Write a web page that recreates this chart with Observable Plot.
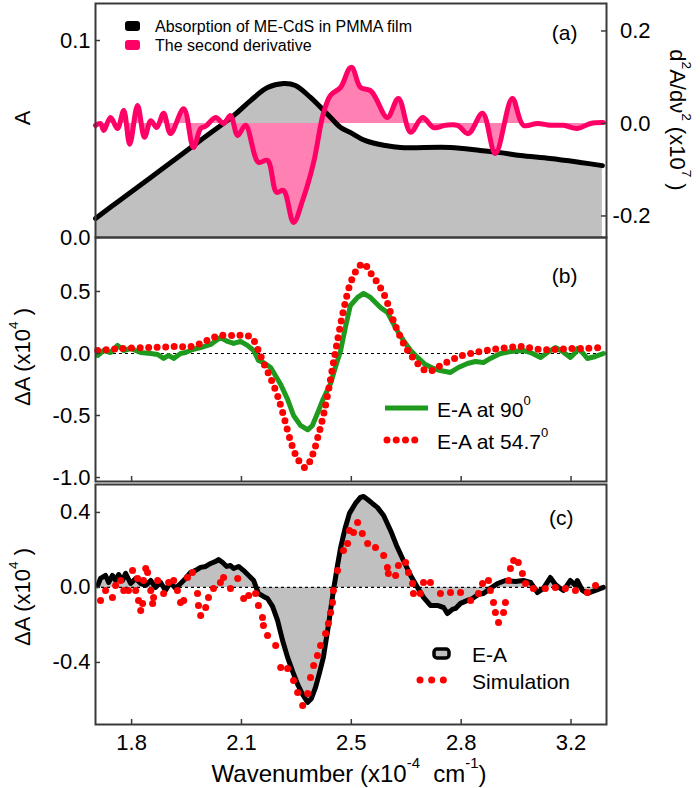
<!DOCTYPE html>
<html><head><meta charset="utf-8">
<script src="https://cdn.jsdelivr.net/npm/d3@7"></script>
<script src="https://cdn.jsdelivr.net/npm/@observablehq/plot@0.6"></script>
<style>
body{margin:0;background:#fff;}
#chart{position:relative;width:700px;height:788px;font-family:"Liberation Sans",Arial,sans-serif;}
#chart svg{position:absolute;left:0;}
</style></head><body><div id="chart"></div>
<script>
// ---------- shared x axis ----------
const xDomain = [1.685, 3.313];
const xTicks = [1.8, 2.15, 2.5, 2.85, 3.2];
const xTickLabels = ["1.8", "2.1", "2.5", "2.8", "3.2"];

// ---------- panel (a) ----------
const absWn = [1.685,1.765,1.861,1.956,2.020,2.125,2.179,2.233,2.284,2.322,2.370,2.434,2.466,2.497,2.545,2.609,2.657,2.816,2.911,2.975,3.039,3.134,3.230,3.300];
const absA  = [0.0096,0.0192,0.0305,0.0418,0.0494,0.0619,0.0695,0.0761,0.0782,0.0772,0.0711,0.0609,0.0558,0.0533,0.0492,0.0467,0.0457,0.0457,0.0442,0.0431,0.0416,0.0401,0.0381,0.0365];
const d2Wn  = [1.685,1.701,1.711,1.733,1.755,1.775,1.794,1.819,1.841,1.861,1.880,1.902,1.924,1.966,1.997,2.020,2.036,2.068,2.093,2.115,2.138,2.163,2.204,2.233,2.262,2.284,2.316,2.345,2.380,2.411,2.434,2.466,2.494,2.503,2.529,2.561,2.577,2.615,2.650,2.689,2.727,2.762,2.800,2.838,2.873,2.918,2.959,3.013,3.048,3.093,3.134,3.176,3.220,3.262,3.303];
const d2Val = [-0.004,0.000,-0.015,0.013,-0.011,0.028,-0.045,0.039,-0.030,0.006,-0.009,0.022,-0.022,0.032,-0.052,-0.011,-0.006,0.013,0.000,0.017,-0.026,-0.004,-0.084,-0.080,-0.149,-0.145,-0.214,-0.166,-0.084,0.022,0.061,0.078,0.119,0.121,0.078,0.071,0.056,0.013,0.054,-0.019,0.013,-0.009,-0.004,-0.004,-0.022,0.022,-0.065,0.054,-0.004,0.000,-0.004,-0.004,-0.011,0.000,0.002];
const aTicks = [0, 0.1];
const d2Ticks = [-0.2, 0, 0.2];

// ---------- panel (b) ----------
const b90Wn  = [1.692,1.711,1.733,1.755,1.775,1.797,1.829,1.861,1.883,1.902,1.918,1.934,1.956,1.972,1.994,2.020,2.052,2.083,2.106,2.125,2.147,2.169,2.189,2.204,2.220,2.243,2.275,2.297,2.316,2.338,2.361,2.376,2.392,2.411,2.434,2.449,2.466,2.481,2.497,2.520,2.539,2.561,2.593,2.615,2.634,2.650,2.666,2.689,2.711,2.736,2.762,2.784,2.816,2.841,2.870,2.895,2.921,2.943,2.975,3.007,3.048,3.071,3.103,3.125,3.150,3.173,3.198,3.214,3.220,3.236,3.252,3.278,3.303];
const b90Val = [-0.016,0.024,0.008,0.065,0.024,0.040,0.008,0.000,-0.008,-0.040,-0.016,-0.040,0.000,0.008,0.032,0.048,0.073,0.129,0.097,0.081,0.097,0.065,0.024,-0.056,-0.073,-0.113,-0.250,-0.370,-0.500,-0.580,-0.615,-0.581,-0.484,-0.363,-0.242,-0.113,0.024,0.210,0.387,0.452,0.484,0.452,0.371,0.331,0.242,0.169,0.105,0.024,-0.032,-0.089,-0.121,-0.137,-0.153,-0.113,-0.081,-0.065,-0.073,-0.040,0.000,0.016,0.024,0.008,-0.032,0.008,0.048,0.016,-0.032,0.008,0.040,0.008,-0.040,-0.024,0.000];
const b547Wn  = [1.692,1.765,1.861,1.940,1.988,2.020,2.052,2.083,2.131,2.169,2.189,2.204,2.220,2.243,2.265,2.284,2.306,2.329,2.354,2.376,2.395,2.411,2.427,2.443,2.459,2.475,2.497,2.520,2.539,2.561,2.586,2.609,2.625,2.641,2.657,2.673,2.689,2.714,2.736,2.759,2.784,2.816,2.848,2.880,2.927,2.975,3.039,3.103,3.150,3.198,3.246,3.294];
const b547Val = [0.024,0.040,0.048,0.056,0.056,0.080,0.120,0.145,0.145,0.145,0.105,0.024,-0.073,-0.200,-0.340,-0.500,-0.700,-0.850,-0.920,-0.820,-0.660,-0.500,-0.300,-0.073,0.145,0.347,0.565,0.685,0.726,0.650,0.560,0.450,0.330,0.220,0.130,0.050,-0.010,-0.089,-0.137,-0.137,-0.097,-0.056,-0.020,0.000,0.024,0.040,0.056,0.032,0.032,0.040,0.040,0.048];
const bTicks = [-1.0, -0.5, 0, 0.5];

// ---------- panel (c) ----------
const cEaWn  = [1.692,1.701,1.717,1.727,1.739,1.749,1.759,1.771,1.781,1.797,1.813,1.829,1.845,1.861,1.876,1.892,1.908,1.924,1.940,1.956,1.972,1.988,2.004,2.020,2.036,2.052,2.068,2.077,2.090,2.103,2.115,2.125,2.141,2.157,2.173,2.189,2.198,2.204,2.220,2.233,2.249,2.265,2.281,2.297,2.313,2.329,2.345,2.361,2.373,2.386,2.399,2.411,2.427,2.443,2.456,2.466,2.481,2.494,2.513,2.529,2.539,2.552,2.567,2.583,2.603,2.625,2.644,2.666,2.689,2.711,2.730,2.752,2.774,2.794,2.806,2.822,2.832,2.848,2.870,2.886,2.905,2.921,2.943,2.966,2.991,3.023,3.048,3.071,3.093,3.112,3.134,3.150,3.166,3.176,3.198,3.214,3.220,3.236,3.252,3.278,3.303];
const cEaVal = [0.010,0.048,0.064,0.027,0.064,0.037,0.069,0.037,0.075,0.021,0.048,0.021,0.011,0.037,0.000,0.027,-0.016,0.027,-0.005,0.021,0.048,0.080,0.091,0.107,0.112,0.128,0.139,0.149,0.133,0.112,0.117,0.101,0.112,0.090,0.064,0.037,-0.005,-0.032,-0.048,-0.059,-0.101,-0.176,-0.283,-0.373,-0.448,-0.517,-0.571,-0.613,-0.592,-0.533,-0.453,-0.373,-0.203,-0.016,0.117,0.213,0.320,0.395,0.448,0.480,0.485,0.469,0.448,0.427,0.384,0.304,0.224,0.144,0.064,0.000,-0.053,-0.096,-0.096,-0.107,-0.139,-0.117,-0.112,-0.085,-0.069,-0.059,-0.037,-0.032,-0.005,0.021,0.037,0.032,0.037,0.027,-0.027,-0.005,0.053,0.016,-0.005,-0.016,0.037,0.011,0.037,-0.016,-0.032,-0.016,0.000];
const cSimWn  = [1.701,1.717,1.739,1.749,1.765,1.775,1.790,1.803,1.813,1.819,1.822,1.829,1.835,1.838,1.845,1.851,1.861,1.867,1.870,1.883,1.902,1.918,1.934,1.946,1.956,1.966,1.978,1.994,2.010,2.013,2.020,2.036,2.045,2.061,2.083,2.093,2.115,2.138,2.157,2.173,2.195,2.204,2.217,2.220,2.233,2.259,2.275,2.297,2.316,2.329,2.345,2.361,2.370,2.380,2.392,2.402,2.418,2.427,2.434,2.440,2.443,2.456,2.475,2.488,2.494,2.507,2.520,2.535,2.552,2.577,2.603,2.615,2.618,2.641,2.650,2.673,2.682,2.695,2.698,2.720,2.730,2.752,2.784,2.816,2.848,2.880,2.905,2.918,2.937,2.943,2.953,2.959,2.969,2.985,2.991,3.001,3.007,3.017,3.032,3.045,3.055,3.080,3.118,3.150,3.182,3.214,3.252,3.278];
const cSimVal = [-0.069,-0.016,-0.053,0.011,0.037,-0.016,-0.016,0.091,-0.016,0.048,-0.069,-0.123,-0.085,0.037,0.101,0.080,-0.016,-0.085,-0.053,0.037,-0.032,0.027,0.037,-0.016,-0.080,-0.069,0.053,0.080,-0.032,-0.096,-0.149,-0.107,-0.053,-0.005,0.027,0.053,-0.005,0.048,-0.059,-0.043,-0.032,-0.096,-0.160,-0.203,-0.256,-0.309,-0.427,-0.432,-0.496,-0.560,-0.629,-0.565,-0.480,-0.416,-0.363,-0.309,-0.245,-0.192,-0.133,-0.080,-0.016,0.091,0.197,0.235,0.304,0.293,0.347,0.288,0.235,0.213,0.171,0.107,0.075,0.064,0.117,0.133,0.080,0.021,-0.032,-0.032,0.027,0.027,-0.032,-0.027,-0.027,-0.069,-0.032,0.021,0.037,-0.016,-0.080,-0.133,-0.187,-0.133,-0.080,0.037,0.101,0.144,0.133,0.075,0.021,-0.005,-0.005,0.000,-0.005,-0.016,-0.027,0.011];
const cTicks = [-0.4, 0, 0.4];

// ---------- helpers ----------
const zip = (xs, ys) => xs.map((x, i) => ({x, y: ys[i]}));
const fmt1 = v => (Math.round(v * 10) / 10 + 0).toFixed(1);
const W = 700, ML = 95, MR = 94, innerW = W - ML - MR;
const FRAME = "#3a3a3a";
const PINK = "#ff0066", PINKFILL = "#ff80b2", GRAY = "#c0c0c0", GREEN = "#1e9a1e", RED = "#ff0000";
const FONT = "'Liberation Sans', Arial, sans-serif";

// derivative (right axis) mapped onto the absorbance scale
const D0 = 0.0579, K = 0.2348;
const toA = d => D0 + d * K;
const fromA = a => (a - D0) / K;

function panel({top, height, mt, mb, yDomain, marks}) {
  const innerH = height - mt - mb;
  const p = Plot.plot({
    width: W, height, marginLeft: ML, marginRight: MR, marginTop: mt, marginBottom: mb,
    x: {domain: xDomain, axis: null},
    y: {domain: yDomain, axis: null},
    style: {fontFamily: FONT, fontSize: "22px", background: "transparent", overflow: "visible", color: "#000"},
    marks: marks(innerH)
  });
  p.style.top = top + "px";
  return p;
}
const leftTicks = (ticks) => [
  Plot.tickY(ticks, {y: d => d, insetRight: innerW - 5, stroke: FRAME, strokeWidth: 1.5}),
  Plot.axisY(ticks, {anchor: "left", tickSize: 0, tickPadding: 5, tickFormat: fmt1, fontSize: 22, label: null})
];
const bottomTicks = (innerH) => Plot.tickX(xTicks, {x: d => d, insetTop: innerH - 5, stroke: FRAME, strokeWidth: 1.5});

const chart = document.getElementById("chart");

// (a)
chart.appendChild(panel({top: 0, height: 240, mt: 3, mb: 3, yDomain: [0, 0.1188], marks: innerH => [
  Plot.areaY(zip(absWn, absA), {x: "x", y1: 0, y2: "y", fill: GRAY, curve: "catmull-rom"}),
  Plot.areaY(zip(d2Wn, d2Val), {x: "x", y1: () => toA(0), y2: d => toA(d.y), fill: PINKFILL, curve: "catmull-rom"}),
  Plot.line(zip(absWn, absA), {x: "x", y: "y", stroke: "#000", strokeWidth: 5, curve: "catmull-rom"}),
  Plot.line(zip(d2Wn, d2Val), {x: "x", y: d => toA(d.y), stroke: PINK, strokeWidth: 5, curve: "catmull-rom"}),
  ...leftTicks(aTicks),
  Plot.tickY(d2Ticks.map(toA), {y: d => d, insetLeft: innerW - 5, stroke: FRAME, strokeWidth: 1.5}),
  Plot.axisY(d2Ticks.map(toA), {anchor: "right", tickSize: 0, tickPadding: 44, textAnchor: "end", tickFormat: a => fmt1(fromA(a)), fontSize: 22, label: null}),
  Plot.text(["(a)"], {frameAnchor: "top-right", dx: -29, dy: 22, textAnchor: "end", fontSize: 21}),
  Plot.frame({stroke: FRAME, strokeWidth: 2})
]}));

// (b)
chart.appendChild(panel({top: 234, height: 250, mt: 3, mb: 3, yDomain: [-1.032, 0.935], marks: innerH => [
  Plot.ruleY([0], {stroke: "#000", strokeWidth: 1.2, strokeDasharray: "3,3"}),
  Plot.line(zip(b90Wn, b90Val), {x: "x", y: "y", stroke: GREEN, strokeWidth: 5, strokeLinejoin: "round"}),
  Plot.line(zip(b547Wn, b547Val), {x: "x", y: "y", stroke: RED, strokeWidth: 7, strokeDasharray: "0 8.5", strokeLinecap: "round", curve: "catmull-rom"}),
  ...leftTicks(bTicks),
  bottomTicks(innerH),
  Plot.text(["(b)"], {frameAnchor: "top-right", dx: -29, dy: 31, textAnchor: "end", fontSize: 21}),
  Plot.frame({stroke: FRAME, strokeWidth: 2})
]}));

// (c)
chart.appendChild(panel({top: 481, height: 307, mt: 3, mb: 64, yDomain: [-0.731, 0.549], marks: innerH => [
  Plot.areaY(zip(cEaWn, cEaVal), {x: "x", y1: 0, y2: "y", fill: GRAY}),
  Plot.ruleY([0], {stroke: "#000", strokeWidth: 1.2, strokeDasharray: "3,3"}),
  Plot.line(zip(cEaWn, cEaVal), {x: "x", y: "y", stroke: "#000", strokeWidth: 5, strokeLinejoin: "round"}),
  Plot.dot(zip(cSimWn, cSimVal), {x: "x", y: "y", r: 3.5, fill: RED}),
  ...leftTicks(cTicks),
  bottomTicks(innerH),
  Plot.axisX(xTicks, {anchor: "bottom", tickSize: 0, tickPadding: 10, tickFormat: d => xTickLabels[xTicks.indexOf(d)], fontSize: 22, label: null}),
  Plot.text(["(c)"], {frameAnchor: "top-right", dx: -33, dy: 26, textAnchor: "end", fontSize: 21}),
  Plot.frame({stroke: FRAME, strokeWidth: 2})
]}));

// ---------- titles & legends overlay ----------
const ov = d3.select(chart).append("svg").attr("width", 700).attr("height", 788)
  .style("top", "0px").style("font-family", FONT).style("pointer-events", "none");

function rich(g, parts, size) {
  const t = g.append("text").attr("font-size", size).attr("dominant-baseline", "central");
  let shifted = 0;
  parts.forEach(p => {
    if (typeof p === "string") {
      t.append("tspan").attr("dy", -shifted).text(p); shifted = 0;
    } else {
      const s = size * 0.42;
      t.append("tspan").attr("font-size", size * 0.62).attr("dy", -s - shifted).text(p.sup); shifted = -s;
    }
  });
  return t;
}

// y titles
rich(ov.append("g").attr("transform", "translate(22,118) rotate(-90)"), ["A"], 22).attr("text-anchor", "middle");
rich(ov.append("g").attr("transform", "translate(22,357) rotate(-90)"), ["\u0394A (x10", {sup: "4"}, " )"], 22).attr("text-anchor", "middle");
rich(ov.append("g").attr("transform", "translate(22,597) rotate(-90)"), ["\u0394A (x10", {sup: "4"}, " )"], 22).attr("text-anchor", "middle");
rich(ov.append("g").attr("transform", "translate(678,120) rotate(90)"), ["d", {sup: "2"}, "A/d\u03bd", {sup: "2"}, " (x10", {sup: "7"}, " )"], 22).attr("text-anchor", "middle");
// x title
rich(ov.append("g").attr("transform", "translate(349,773)"), ["Wavenumber (x10", {sup: "-4"}, "  cm", {sup: "-1"}, ")"], 24).attr("text-anchor", "middle").attr("xml:space", "preserve");

// legend (a)
ov.append("rect").attr("x", 125).attr("y", 21).attr("width", 15).attr("height", 10).attr("rx", 3).attr("fill", "#000");
ov.append("rect").attr("x", 125).attr("y", 40).attr("width", 15).attr("height", 10).attr("rx", 3).attr("fill", PINK);
rich(ov.append("g").attr("transform", "translate(155,26)"), ["Absorption of ME-CdS in PMMA film"], 16);
rich(ov.append("g").attr("transform", "translate(155,45)"), ["The second derivative"], 16);

// legend (b)
ov.append("line").attr("x1", 385).attr("x2", 428).attr("y1", 408).attr("y2", 408).attr("stroke", GREEN).attr("stroke-width", 5);
ov.append("line").attr("x1", 387).attr("x2", 424).attr("y1", 440).attr("y2", 440).attr("stroke", RED).attr("stroke-width", 7)
  .attr("stroke-linecap", "round").attr("stroke-dasharray", "0 9.25");
rich(ov.append("g").attr("transform", "translate(437,409)"), ["E-A at 90", {sup: "0"}], 21);
rich(ov.append("g").attr("transform", "translate(437,441)"), ["E-A at 54.7", {sup: "0"}], 21);

// legend (c)
ov.append("rect").attr("x", 434).attr("y", 649).attr("width", 15).attr("height", 9).attr("rx", 3)
  .attr("fill", GRAY).attr("stroke", "#000").attr("stroke-width", 3.5);
ov.append("line").attr("x1", 420).attr("x2", 455).attr("y1", 680).attr("y2", 680).attr("stroke", RED).attr("stroke-width", 7)
  .attr("stroke-linecap", "round").attr("stroke-dasharray", "0 11.67");
rich(ov.append("g").attr("transform", "translate(472,654)"), ["E-A"], 21);
rich(ov.append("g").attr("transform", "translate(472,681)"), ["Simulation"], 21);
</script></body></html>
